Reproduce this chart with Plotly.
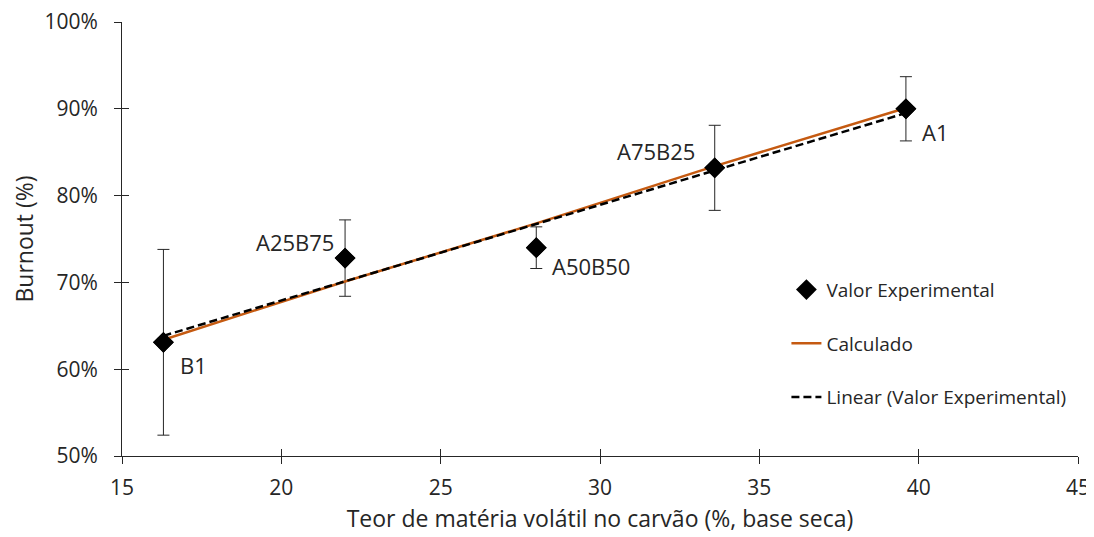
import numpy as np
import plotly.graph_objects as go

# Data
samples = ["B1", "A25B75", "A50B50", "A75B25", "A1"]
volatile = [16.3, 22.0, 28.0, 33.6, 39.6]
burnout_exp = [63.1, 72.8, 74.0, 83.2, 90.0]
burnout_err = [10.7, 4.4, 2.4, 4.9, 3.7]
burnout_calc = [63.4, 70.1, 76.8, 83.4, 90.1]
x_ticks = [15, 20, 25, 30, 35, 40, 45]
y_ticks = [50, 60, 70, 80, 90, 100]
y_tick_text = ["50%", "60%", "70%", "80%", "90%", "100%"]

# label placement (style only): anchor side, pixel shifts
label_side = ["left", "right", "left", "right", "left"]
label_dx = [15, -9, 14, -18, 14]
label_dy = [-23, 16, -18, 17, -23]

# Linear trendline of experimental values
coef = np.polyfit(volatile, burnout_exp, 1)
trend_x = [min(volatile), max(volatile)]
trend_y = list(np.polyval(coef, trend_x))

FONT = "Open Sans"
AX = "#262626"
fig = go.Figure()

fig.add_trace(go.Scatter(
    x=volatile, y=burnout_exp, mode="markers", name="Valor Experimental",
    marker=dict(symbol="diamond", size=16, color="black"),
    error_y=dict(type="data", array=burnout_err, color="#262626", thickness=1, width=6),
    legendgroup="a", legendrank=1,
))
fig.add_trace(go.Scatter(
    x=volatile, y=burnout_calc, mode="lines", name="Calculado",
    line=dict(color="#C55A11", width=2.5), legendgroup="b", legendrank=2,
))
fig.add_trace(go.Scatter(
    x=trend_x, y=trend_y, mode="lines", name="Linear (Valor Experimental)",
    line=dict(color="black", width=2.5, dash="8px,4px"), legendgroup="c", legendrank=3,
))
# redraw markers on top of lines (no legend)
fig.add_trace(go.Scatter(
    x=volatile, y=burnout_exp, mode="markers", showlegend=False, hoverinfo="skip",
    marker=dict(symbol="diamond", size=16, color="black"),
))
# invisible trace for overlay axes (inward ticks to make crossing ticks)
fig.add_trace(go.Scatter(x=[x_ticks[0]], y=[y_ticks[0]], xaxis="x2", yaxis="y2",
                         mode="markers", marker=dict(opacity=0), showlegend=False,
                         hoverinfo="skip"))

for name, xv, yv, side, dx, dy in zip(samples, volatile, burnout_exp,
                                      label_side, label_dx, label_dy):
    fig.add_annotation(x=xv, y=yv, text=name, showarrow=False, xanchor=side,
                       yanchor="middle", xshift=dx, yshift=dy,
                       font=dict(family=FONT, size=22))

fig.update_layout(
    width=1086, height=529,
    margin=dict(l=114, r=16, t=14, b=81, autoexpand=False),
    paper_bgcolor="white", plot_bgcolor="white",
    font=dict(family=FONT, size=19, color="#262626"),
    showlegend=True,
    legend=dict(x=0.695, y=0.427, xanchor="left", yanchor="top",
                bgcolor="rgba(0,0,0,0)", font=dict(family=FONT, size=19),
                tracegroupgap=26, traceorder="grouped"),
    xaxis=dict(range=[15, 45], tickvals=x_ticks, showgrid=False, zeroline=False,
               showline=True, linecolor=AX, linewidth=1, automargin=False,
               ticks="outside", ticklen=7, tickcolor=AX, ticklabelstandoff=6,
               tickfont=dict(family=FONT, size=21), ticklabeloverflow="allow",
               title=dict(text="Teor de matéria volátil no carvão (%, base seca)",
                          standoff=10)),
    yaxis=dict(range=[50, 100], tickvals=y_ticks, ticktext=y_tick_text, showgrid=False,
               zeroline=False, showline=True, linecolor=AX, linewidth=1, automargin=False,
               ticks="outside", ticklen=7, tickcolor=AX, ticklabelstandoff=12,
               tickfont=dict(family=FONT, size=21), ticklabeloverflow="allow",
               title=dict(text="Burnout (%)", standoff=6)),
    xaxis2=dict(range=[15, 45], tickvals=x_ticks, overlaying="x", side="bottom",
                showticklabels=False, ticks="inside", ticklen=7, tickcolor=AX,
                showgrid=False, zeroline=False, showline=False, automargin=False),
    yaxis2=dict(range=[50, 100], tickvals=y_ticks, overlaying="y", side="left",
                showticklabels=False, ticks="inside", ticklen=7, tickcolor=AX,
                showgrid=False, zeroline=False, showline=False, automargin=False),
)

fig.write_html("out.html")
